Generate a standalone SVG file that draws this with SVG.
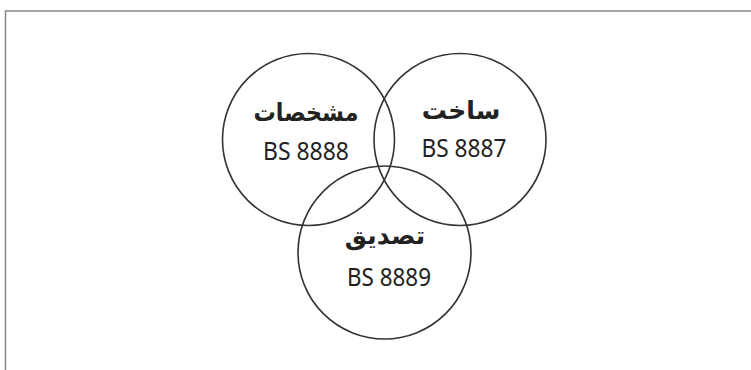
<svg xmlns="http://www.w3.org/2000/svg" width="751" height="370" viewBox="0 0 751 370">
<style>
.c{fill:none;stroke:#333;stroke-width:1.6}
.t{font-family:"Noto Sans","DejaVu Sans",sans-serif;fill:#222;text-anchor:middle}
.fa{font-size:25px;font-weight:bold}
.bs{font-size:25px}
</style>
<rect x="0" y="0" width="751" height="370" fill="#fff"/>
<path d="M5.5 370 V11 H751" fill="none" stroke="#888" stroke-width="1.5"/>
<g id="spec">
<circle class="c" cx="308.5" cy="139.5" r="86"/>
<text class="t fa" x="306" y="121" direction="rtl" textLength="105" lengthAdjust="spacingAndGlyphs">مشخصات</text>
<text class="t bs" x="306" y="160" textLength="86" lengthAdjust="spacingAndGlyphs">BS 8888</text>
</g>
<g id="build">
<circle class="c" cx="460" cy="139.5" r="86"/>
<text class="t fa" x="461" y="119" direction="rtl">ساخت</text>
<text class="t bs" x="464" y="156.5" textLength="85" lengthAdjust="spacingAndGlyphs">BS 8887</text>
</g>
<g id="verify">
<circle class="c" cx="384.5" cy="252.5" r="86.5"/>
<text class="t fa" x="385" y="244" direction="rtl">تصدیق</text>
<text class="t bs" x="389" y="286" textLength="84" lengthAdjust="spacingAndGlyphs">BS 8889</text>
</g>
<g id="connectors"></g>
</svg>
